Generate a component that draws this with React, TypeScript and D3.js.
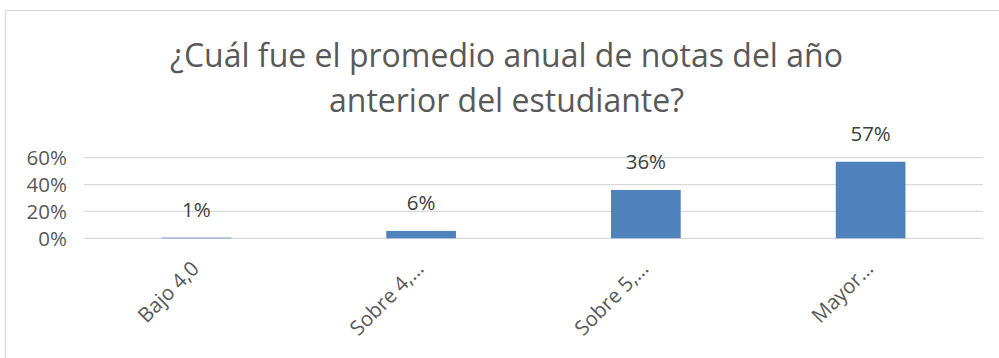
import React from "react";
import * as d3 from "d3";

const categories = ["Bajo 4,0", "Sobre 4,…", "Sobre 5,…", "Mayor…"];
const values = [0.005, 0.055, 0.36, 0.57];
const valueLabels = ["1%", "6%", "36%", "57%"];
const yTicks = [0, 0.2, 0.4, 0.6];
const titleLines = ["¿Cuál fue el promedio anual de notas del año", "anterior del estudiante?"];

const W = 999;
const H = 358;
const FONT = "'Open Sans', 'DejaVu Sans', sans-serif";

export default function App() {
  const x = d3.scaleBand().domain(categories).range([84, 983]).paddingInner(0.69).paddingOuter(0.345);
  const y = d3.scaleLinear().domain([0, 0.6]).range([238.3, 157.7]);

  return (
    <svg
      width={W}
      height={H}
      style={{ position: "absolute", left: 0, top: 0, background: "#fff" }}
      fontFamily={FONT}
    >
      <rect x={5.5} y={10.5} width={1100} height={500} fill="#fff" stroke="#d9d9d9" strokeWidth={1.2} />
      {titleLines.map((t, i) => (
        <text
          key={i}
          x={506.5}
          y={66.5 + i * 45}
          textAnchor="middle"
          fontSize={32}
          fill="#595959"
        >
          {t}
        </text>
      ))}
      {yTicks.map((t) => (
        <g key={t}>
          <line x1={84} x2={983} y1={y(t)} y2={y(t)} stroke="#d9d9d9" strokeWidth={1.3} />
          <text x={67} y={y(t)} dy="0.36em" textAnchor="end" fontSize={20.5} fill="#595959">
            {d3.format(".0%")(t)}
          </text>
        </g>
      ))}
      {categories.map((c, i) => {
        const cx = (x(c) as number) + x.bandwidth() / 2;
        return (
          <g key={c}>
            <rect x={x(c)} y={y(values[i])} width={x.bandwidth()} height={y(0) - y(values[i])} fill="#4f81bd" />
            <text x={cx} y={y(values[i]) - 21} textAnchor="middle" fontSize={20.5} fill="#404040">
              {valueLabels[i]}
            </text>
            <text
              transform={`translate(${cx + 4},${270}) rotate(-45)`}
              textAnchor="end"
              fontSize={20.5}
              fill="#595959"
            >
              {c}
            </text>
          </g>
        );
      })}
    </svg>
  );
}
